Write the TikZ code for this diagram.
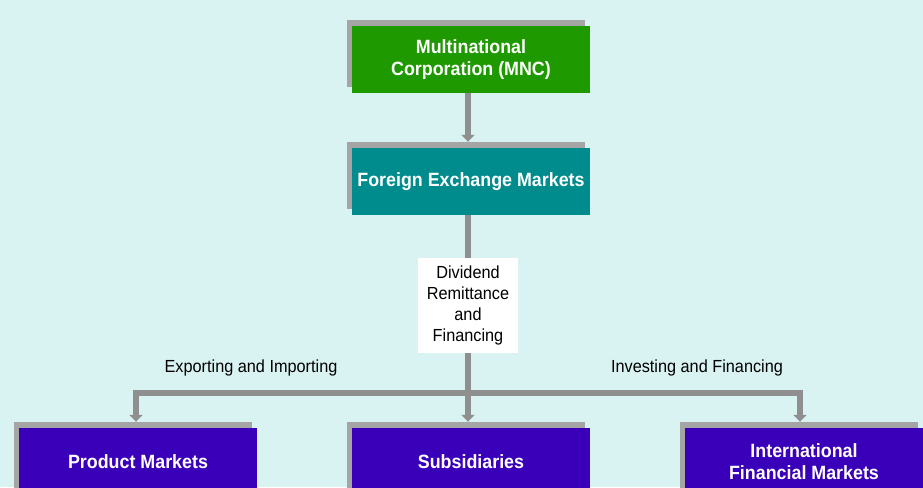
\documentclass[tikz,border=0pt]{standalone}
\usepackage{fontspec}
\setmainfont{Liberation Sans}[FakeStretch=0.93]
\usetikzlibrary{arrows.meta,shadows}
\definecolor{bgc}{HTML}{D9F3F2}
\definecolor{mncgreen}{HTML}{1E9900}
\definecolor{fxteal}{HTML}{008C8C}
\definecolor{mktblue}{HTML}{3A00B9}
\definecolor{arrowgray}{HTML}{8F8F8F}
\definecolor{shadegray}{HTML}{A5A5A5}
\begin{document}
\begin{tikzpicture}[x=1pt,y=-1pt,
  boxnode/.style={minimum width=238pt,minimum height=67pt,inner sep=0pt,
    text=white,align=center,
    font=\fontsize{19.2}{22}\selectfont\bfseries,
    general shadow={fill=shadegray,shadow xshift=-5pt,shadow yshift=6pt}},
  conn/.style={draw=arrowgray,line width=6pt,
    -{Triangle[width=13pt,length=7pt]},shorten >=6pt},
  plain/.style={draw=arrowgray,line width=6pt},
  lbl/.style={font=\fontsize{17.5}{21.3}\selectfont,text=black,inner sep=0pt}]
\useasboundingbox (0,0) rectangle (923,487);
\clip (0,0) rectangle (923,487);
\fill[bgc] (0,0) rectangle (923,487);

\node[boxnode,fill=mncgreen] (mnc) at (471,59.5) {Multinational\\Corporation (MNC)};
\node[boxnode,fill=fxteal] (fx) at (471,181.5) {Foreign Exchange Markets};
\node[boxnode,fill=mktblue] (pm) at (138,461.5) {Product Markets};
\node[boxnode,fill=mktblue] (sub) at (471,461.5) {Subsidiaries};
\node[boxnode,fill=mktblue] (ifm) at (804,461.5) {International\\Financial Markets};

\coordinate (j) at (468,392.5);
\coordinate (jl) at (136,392.5);
\coordinate (jr) at (800,392.5);

\draw[conn] (mnc.south -| 468,0) -- (fx.north -| 468,0);
\draw[plain] (fx.south -| 468,0) -- (j);
\draw[plain,line cap=rect] (jl) -- (jr);
\draw[conn] (j) -- (sub.north -| 468,0);
\draw[conn] (jl) -- (pm.north -| jl);
\draw[conn] (jr) -- (ifm.north -| jr);

\node[lbl,fill=white,minimum width=100pt,minimum height=95pt,align=center] (div) at (468,305.5)
  {Dividend\\Remittance\\and\\Financing};
\node[lbl] (exp) at (251,368) {Exporting and Importing};
\node[lbl] (inv) at (697,368) {Investing and Financing};
\end{tikzpicture}
\end{document}
